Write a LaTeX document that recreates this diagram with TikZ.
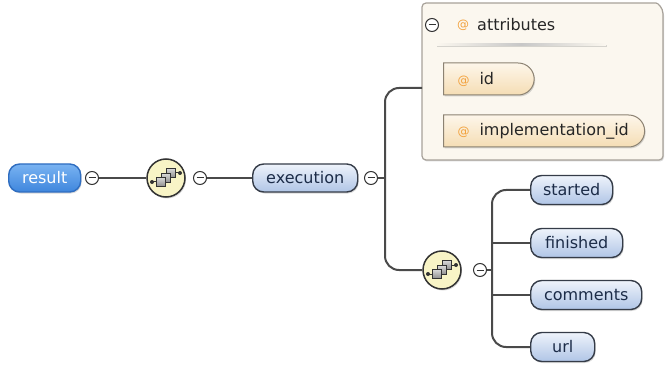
\documentclass[tikz,border=0pt]{standalone}
\usepackage{fontspec}
\setmainfont{DejaVu Sans}
\usetikzlibrary{shapes.misc,shadows}
\definecolor{elemtop}{HTML}{EEF3FB}
\definecolor{elembot}{HTML}{B0C5E6}
\definecolor{elemline}{HTML}{353C48}
\definecolor{elemtext}{HTML}{1C2C48}
\definecolor{roottop}{HTML}{79B3F2}
\definecolor{rootbot}{HTML}{3F86DD}
\definecolor{rootline}{HTML}{2F6DC0}
\definecolor{attrtop}{HTML}{FDF6EA}
\definecolor{attrbot}{HTML}{F5DDB4}
\definecolor{attrline}{HTML}{8C8272}
\definecolor{atsign}{HTML}{F2A13C}
\definecolor{boxfill}{HTML}{FBF7EF}
\definecolor{boxline}{HTML}{A8A29A}
\definecolor{seqfill}{HTML}{F8F4C6}
\definecolor{connline}{HTML}{4A4A4A}
\begin{document}
\begin{tikzpicture}[
  x=1pt,y=-1pt,
  font=\fontsize{16}{19}\selectfont,
  conn/.style={connline,line width=2pt},
  shade/.style={drop shadow={shadow xshift=1pt,shadow yshift=-1.5pt,opacity=0.3}},
  element/.style={draw=elemline,line width=1.4pt,rounded corners=11pt,top color=elemtop,bottom color=elembot,text=elemtext,minimum height=29pt,inner xsep=6pt,anchor=west,shade},
  root/.style={element,draw=rootline,top color=roottop,bottom color=rootbot,text=white,minimum height=28pt},
  attribute/.style={draw=attrline,line width=1pt,rounded rectangle,rounded rectangle west arc=none,top color=attrtop,bottom color=attrbot,text=black!85,minimum height=32pt,inner xsep=6pt,anchor=west,align=left,shade},
  collapse/.style={circle,draw=black!80,fill=white,line width=1pt,minimum size=13pt,inner sep=0pt,
    path picture={\draw[line width=1pt] ([xshift=3pt]path picture bounding box.west) -- ([xshift=-3pt]path picture bounding box.east);}},
  sequence/.style={circle,draw=black!80,line width=1.5pt,fill=seqfill,minimum size=38pt,inner sep=0pt,shade},
  groupbox/.style={draw=boxline,fill=boxfill,line width=1.2pt,shade},
  atmark/.style={text=atsign,font=\fontsize{12}{14}\selectfont,inner sep=0pt}
]
  \useasboundingbox (0,0) rectangle (666,366);
  \newcommand\attr[2]{\makebox[#1][l]{\hspace{8pt}\textcolor{atsign}{\fontsize{12}{14}\selectfont @}\hspace{10pt}#2}}

  % top level
  \node[root,minimum width=72pt] (result) at (8,178) {result};
  \node[collapse] (m1) at (92,178) {};
  \node[sequence] (seq1) at (166,178) {};
  \node[collapse] (m2) at (200,178) {};
  \node[element,minimum width=105pt,minimum height=28pt] (execution) at (252,178) {execution};
  \node[collapse] (m3) at (371,178) {};

  % attribute group
  \draw[groupbox,rounded corners=4pt] (422,160) -- (422,3) -- (652,3) [sharp corners]
    arc[start angle=-90,end angle=0,radius=11] [rounded corners=4pt] -- (663,160) -- cycle;
  \coordinate (attrs) at (422,88);
  \node[collapse] (m5) at (432,25) {};
  \node[atmark] (atgroup) at (463,25) {@};
  \node[anchor=west,text=black!85,inner sep=0pt] (attributes) at (477,25) {attributes};
  \shade[left color=boxfill,right color=boxfill,middle color=black!22] (436,44) rectangle (606,46);
  \node[attribute] (id) at (443,79) {\attr{77pt}{id}};
  \node[attribute] (implid) at (443,131) {\attr{187pt}{implementation\_id}};

  % children sequence
  \node[sequence] (seq2) at (442,270) {};
  \node[collapse] (m4) at (480,270) {};
  \node[element,minimum width=82pt] (started) at (530,190) {started};
  \node[element,minimum width=92pt] (finished) at (530,243) {finished};
  \node[element,minimum width=111pt] (comments) at (530,295) {comments};
  \node[element,minimum width=64pt] (url) at (530,347) {url};

  % sequence icons
  \foreach \s in {seq1,seq2}{
    \begin{scope}[shift={(\s.center)}]
      \draw[black!80,line width=1pt] (-14,4) -- (-8,4);
      \draw[black!80,line width=1pt] (8,-5) -- (14,-5);
      \fill[black!80] (-14,4) circle (2pt) (14,-5) circle (2pt);
      \foreach \dx/\dy in {5/-5,0/0,-5/4}{
        \draw[black!80,top color=black!15,bottom color=black!45,line width=0.8pt] (\dx-4.5,\dy-4.5) rectangle (\dx+4.5,\dy+4.5);
      }
    \end{scope}
  }

  % connectors
  \coordinate (fork1) at (385,178);
  \coordinate (fork2) at (492,270);
  \draw[conn] (m1) -- (seq1);
  \draw[conn] (m2) -- (execution);
  \draw[conn] (m3) -- (fork1);
  \draw[conn,rounded corners=14pt] (attrs) -| (fork1) |- (seq2);
  \draw[conn] (m4) -- (fork2);
  \draw[conn,rounded corners=14pt] (started) -| (fork2) |- (url);
  \draw[conn] (fork2 |- finished) -- (finished);
  \draw[conn] (fork2 |- comments) -- (comments);
\end{tikzpicture}
\end{document}
